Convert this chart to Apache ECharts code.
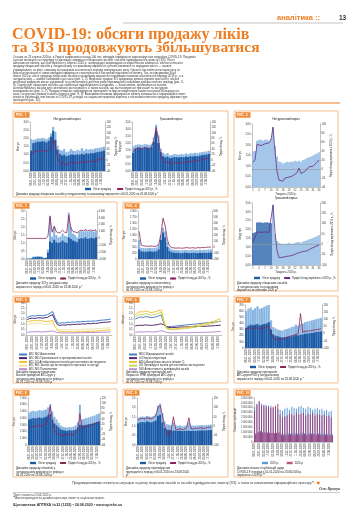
<!DOCTYPE html>
<html><head><meta charset="utf-8">
<script src="https://cdn.jsdelivr.net/npm/echarts@6/dist/echarts.min.js"></script>
<style>html,body{margin:0;padding:0;background:#fff}#c{width:360px;height:530px}</style>
</head><body><div id="c"></div>
<script>
// ---------- DATA ----------
const weeks = ['06.01.2020','13.01.2020','20.01.2020','27.01.2020','03.02.2020','10.02.2020','17.02.2020','24.02.2020','02.03.2020','09.03.2020','16.03.2020','23.03.2020','30.03.2020','06.04.2020','13.04.2020','20.04.2020','27.04.2020','04.05.2020','11.05.2020','18.05.2020','25.05.2020','01.06.2020','08.06.2020','15.06.2020','22.06.2020','29.06.2020','06.07.2020','13.07.2020','20.07.2020','27.07.2020','03.08.2020','10.08.2020','17.08.2020','23.08.2020'];
const weekNums = ['1','2','3','4','5','6','7','8','9','10','11','12','13','14','15','16','17','18','19','20','21','22','23','24','25','26','27','28','29','30','31','32','33','34'];

const p1L_light = [1.95,1.90,1.95,2.00,1.98,2.02,2.00,1.95,2.05,2.30,2.70,2.40,1.55,1.30,1.25,1.35,1.15,1.20,1.35,1.25,1.22,1.30,1.25,1.40,1.25,1.35,1.30,1.35,1.32,1.38,1.40,1.42,1.45,1.50];
const p1L_dark  = [1.25,1.70,1.75,1.80,1.78,1.82,1.80,1.75,1.85,2.10,2.45,1.90,1.30,1.05,0.95,1.00,0.90,0.95,1.00,1.00,0.98,1.02,1.00,1.05,1.00,1.08,1.05,1.10,1.08,1.12,1.15,1.18,1.20,1.25];
const p1L_line  = [20,30,32,35,33,36,34,32,38,50,75,55,5,-10,-15,-8,-20,-12,-6,-10,-12,-8,-10,-4,-10,-5,-8,-3,-6,-2,0,2,4,8];
const p1R_light = [1.75,1.85,1.90,1.88,1.86,1.92,1.90,1.86,1.95,2.40,3.30,2.55,1.60,1.30,1.20,1.28,1.12,1.15,1.22,1.18,1.16,1.22,1.18,1.25,1.20,1.28,1.25,1.30,1.27,1.32,1.35,1.38,1.40,1.45];
const p1R_dark  = [1.30,1.60,1.65,1.65,1.62,1.68,1.66,1.62,1.70,2.10,2.85,2.00,1.35,1.05,0.98,1.02,0.92,0.95,1.00,0.98,0.97,1.00,0.98,1.02,1.00,1.05,1.03,1.06,1.05,1.10,1.12,1.15,1.18,1.22];
const p1R_line  = [30,42,45,44,42,46,45,42,48,70,120,80,15,-5,-10,-6,-15,-12,-8,-10,-12,-8,-10,-6,-8,-4,-6,-2,-4,0,2,4,6,10];

const p2T_bars = [1.70,1.72,2.20,2.25,2.25,2.22,2.25,2.25,2.20,2.30,2.85,1.95,1.45,1.22,1.18,1.12,1.15,1.20,1.18,1.22,1.20,1.25,1.22,1.25,1.20,1.28,1.32,1.38,1.42,1.45,1.50,1.55,1.60,1.65];
const p2T_line = [15,20,55,58,52,55,56,60,58,65,93,40,-5,-25,-29,-27,-20,-22,-18,-17,-15,-12,-8,2,-10,-8,-5,-2,5,3,6,10,15,20];
const p2B_bars = [1.80,1.85,2.40,2.42,2.40,2.38,2.40,2.42,2.38,2.35,3.40,1.75,1.35,1.25,1.22,1.20,1.18,1.22,1.25,1.22,1.20,1.25,1.28,1.30,1.25,1.32,1.35,1.40,1.45,1.48,1.52,1.58,1.62,1.70];
const p2B_line = [10,15,60,62,58,55,60,62,58,65,190,60,-30,-65,-68,-62,-60,-58,-60,-55,-50,-48,-45,-40,-42,-35,-30,-32,-25,-20,-18,-12,-8,-3];

const p3_light = [0.04,0.04,0.05,0.15,0.16,0.18,0.18,0.16,0.08,0.10,0.60,2.70,1.40,2.00,1.50,1.35,1.40,1.60,1.45,1.40,2.90,2.00,1.60,1.50,1.35,1.70,1.75,1.70,1.80,1.70,1.75,1.75,1.70,1.80];
const p3_dark  = [0.02,0.02,0.03,0.10,0.12,0.13,0.12,0.11,0.05,0.06,0.40,1.10,1.00,1.20,1.05,1.00,1.05,1.15,1.05,1.00,1.35,1.25,1.15,1.10,1.05,1.25,1.30,1.28,1.35,1.25,1.30,1.32,1.28,1.35];
const p3_line  = [0,0,0,0,0,0,0,0,0,0,300,3200,900,1800,1000,800,900,1200,900,850,3400,1500,1000,950,800,1100,1200,1100,1300,1100,1200,1200,1100,1300];

const p4_light = [800,470,460,450,460,470,450,460,480,600,1000,1300,1150,700,480,400,380,370,380,360,370,380,370,360,380,390,370,360,380,370,390,380,390,400];
const p4_dark  = [400,320,310,300,310,320,300,310,320,400,800,1100,900,500,330,280,260,250,260,240,250,260,250,240,250,260,250,240,260,250,260,250,260,270];
const p4_line  = [260,30,20,15,10,18,12,10,15,40,200,480,350,120,20,-10,-15,-20,-15,-18,-20,-15,-10,-18,-15,-12,-20,-10,-15,-8,-10,-5,0,-5];

const p5_names = ['АТС N02 Анальгетики','АТС M01 Протизапальні та протиревматичні засоби','АТС J01 Антибактеріальні засоби для системного застосування','АТС R05 Засоби, що застосовуються при кашлі та застуді','АТС N05 Психолептики'];
const p5_a = [1.65,1.75,1.80,1.78,1.82,1.85,1.80,1.85,1.90,2.05,2.20,1.60,1.15,1.10,1.15,1.12,1.20,1.18,1.22,1.20,1.25,1.22,1.28,1.25,1.30,1.28,1.32,1.30,1.35,1.38,1.40,1.42,1.45,1.50];
const p5_b = [1.45,1.55,1.58,1.55,1.60,1.62,1.58,1.62,1.65,1.80,1.90,1.35,0.95,0.90,0.95,0.92,0.98,0.95,1.00,0.98,1.02,1.00,1.05,1.02,1.08,1.05,1.10,1.08,1.12,1.15,1.18,1.20,1.22,1.25];
const p5_c = [1.20,1.30,1.35,1.32,1.35,1.38,1.30,1.28,1.25,1.30,1.35,0.80,0.40,0.35,0.32,0.30,0.32,0.30,0.28,0.30,0.32,0.30,0.33,0.32,0.35,0.34,0.36,0.35,0.38,0.40,0.42,0.45,0.48,0.50];
const p5_d = [0.95,1.05,1.10,1.08,1.10,1.12,1.05,1.02,1.00,1.05,1.10,0.75,0.55,0.52,0.50,0.48,0.50,0.52,0.50,0.48,0.50,0.52,0.55,0.53,0.55,0.56,0.58,0.57,0.60,0.62,0.63,0.65,0.66,0.68];
const p5_e = [0.25,0.28,0.30,0.30,0.32,0.30,0.28,0.30,0.32,0.35,0.38,0.30,0.22,0.20,0.20,0.18,0.20,0.19,0.20,0.21,0.20,0.22,0.21,0.22,0.23,0.22,0.24,0.23,0.25,0.26,0.25,0.27,0.28,0.28];

const p6_names = ['R05C Відхаркувальні засоби','L03 Імуностимулятори','A11G Аскорбінова кислота (вітамін С)','J05 Противірусні засоби для системного застосування','D08 Антисептики та дезінфекційні засоби'];
const p6_a = [1.50,1.60,1.70,1.65,1.72,1.70,1.62,1.65,1.70,1.80,1.85,1.10,0.80,0.78,0.80,0.82,0.85,0.88,0.90,0.92,0.95,0.98,1.00,1.02,1.05,1.08,1.10,1.12,1.15,1.18,1.20,1.22,1.25,1.28];
const p6_b = [0.85,0.90,0.92,0.90,0.95,0.92,0.90,0.92,0.95,1.00,1.05,0.95,0.75,0.70,0.72,0.70,0.72,0.74,0.75,0.76,0.75,0.78,0.80,0.78,0.80,0.82,0.80,0.82,0.84,0.85,0.86,0.88,0.90,0.92];
const p6_c = [1.90,2.10,2.20,2.15,2.25,2.20,2.10,2.15,2.20,2.30,2.35,1.40,0.70,0.60,0.58,0.55,0.60,0.62,0.65,0.70,0.72,0.75,0.80,0.85,0.90,0.95,1.00,1.05,1.10,1.20,1.25,1.35,1.45,1.55];
const p6_d = [1.70,1.85,1.95,1.90,2.00,1.95,1.85,1.90,1.95,2.05,2.10,1.20,0.60,0.52,0.50,0.50,0.52,0.55,0.58,0.60,0.62,0.65,0.70,0.72,0.78,0.82,0.88,0.92,0.98,1.05,1.10,1.18,1.25,1.35];
const p6_e = [0.25,0.28,0.30,0.28,0.30,0.32,0.30,0.28,0.30,0.35,0.40,0.35,0.25,0.22,0.20,0.20,0.21,0.22,0.20,0.22,0.21,0.22,0.23,0.22,0.24,0.23,0.25,0.24,0.26,0.27,0.28,0.30,0.32,0.35];

const p7_light = [600,640,660,620,650,680,640,650,670,690,700,450,340,320,300,290,280,300,310,320,340,350,380,360,390,400,420,430,440,450,460,470,480,490];
const p7_dark  = [330,360,380,370,380,390,370,380,390,400,420,300,220,200,190,180,170,175,180,185,190,200,210,205,215,220,230,235,240,245,250,260,265,270];
const p7_line  = [30,40,38,35,42,40,36,38,40,45,55,10,-30,-40,-42,-38,-35,-30,-25,-20,-15,-10,-5,0,140,10,15,20,18,22,25,28,30,35];

const p8_light = [4800,5000,5100,5000,5100,5200,5100,5200,5300,5600,6100,5000,4200,3800,3300,2900,2700,2650,2600,2700,2650,2750,2900,3400,6000,3800,3900,4000,4100,4200,4300,4400,4550,4700];
const p8_dark  = [3800,3900,4000,3950,4050,4100,4000,4100,4200,4400,4600,3800,3200,2900,2600,2300,2200,2150,2100,2200,2150,2200,2300,2600,3000,2900,2950,3000,3100,3150,3200,3300,3400,3500];
const p8_line  = [5,10,12,10,14,15,12,16,20,40,90,35,-5,-15,-20,-22,-24,-22,-20,-18,-22,-20,-15,-5,60,5,8,10,12,15,18,22,25,30];

const p9_light = [1.45,1.50,1.52,1.50,1.55,1.52,1.50,1.55,1.65,2.10,2.20,1.70,1.25,1.10,1.08,1.05,1.20,1.05,1.02,1.04,1.00,1.02,1.05,1.20,1.02,1.04,1.03,1.05,1.04,1.06,1.05,1.06,1.07,1.08];
const p9_dark  = [1.15,1.20,1.22,1.20,1.25,1.22,1.20,1.25,1.30,1.55,1.60,1.20,0.90,0.82,0.80,0.78,0.76,0.78,0.75,0.76,0.74,0.75,0.76,0.75,0.74,0.76,0.75,0.77,0.76,0.78,0.77,0.78,0.79,0.80];
const p9_line  = [35,40,42,38,45,42,40,45,55,100,110,60,0,-30,-55,-20,50,-15,-18,-12,-20,-15,-10,45,-12,-15,-10,-12,-8,-10,-12,-8,-6,-5];

// thousands of units, two readings per week
const p10_2019 = [3600,900,3800,1000,4100,1100,3900,1000,3700,950,3800,1000,3600,900,3700,950,3500,900,3600,900,3400,850,3300,850,3200,800,3400,850,3500,900,3300,850,3600,900,3500,900,3400,850,3600,900,3700,950,3500,900,3400,850,3600,900,3500,900,3300,850,3400,850,3500,900,3300,850,3400,850,3200,800,3300,850,3100,800,3200,800];
const p10_2020 = [3200,800,3900,1000,4200,1100,3700,950,3800,1000,3600,900,3700,950,3500,900,3600,900,3700,950,3900,1000,2800,700,2500,650,2600,700,2700,700,2900,750,2800,700,2700,700,3000,800,2800,700,2900,750,3000,800,2700,700,2900,750,2800,700,3000,800,2700,700,2900,750,2800,700,2700,700,2800,700,2600,650,2700,700,2500,650];

// ---------- STYLE ----------
const FONT = 'Liberation Sans';
const ORANGE = '#ef7d22', FRAME = '#f4ae72', TAG = '#ef8b35';
const DARK = '#1d5aa5', LIGHT = '#86b5e2', MAROON = '#8b2458', PURPLE = '#6a2c86';
const FS = 2.6;

const option = {animation:false, backgroundColor:'#fff', grid:[], xAxis:[], yAxis:[], series:[], legend:[], graphic:[]};
const comma = d => v => v.toFixed(d).replace('.', ',');
const group = v => String(v).replace(/\B(?=(\d{3})+(?!\d))/g, ' ');

function yax(gi, pos, c){
  return {type:'value', gridIndex:gi, position:pos, min:c.min, max:c.max, interval:c.interval,
    splitLine:{show:false}, axisLine:{show:true, lineStyle:{color:'#888', width:0.5}},
    axisTick:{show:true, length:1, lineStyle:{color:'#888', width:0.4}},
    axisLabel:{fontSize:FS, color:'#333', margin:1.5, fontFamily:FONT, formatter:c.fmt},
    name:c.name||'', nameLocation:'middle', nameRotate:90, nameGap:c.gap||10,
    nameTextStyle:{fontSize:FS, color:'#333', fontFamily:FONT}};
}
function plot(p){
  const gi = option.grid.length;
  option.grid.push({left:p.g[0], top:p.g[1], width:p.g[2], height:p.g[3], outerBoundsMode:'none'});
  const xi = option.xAxis.length;
  option.xAxis.push({type:'category', gridIndex:gi, data:p.cats,
    axisLine:{lineStyle:{color:'#888', width:0.5}}, axisTick:{show:false},
    axisLabel:{fontSize:FS, color:'#333', rotate:p.rot===undefined?90:p.rot, interval:p.xInt, margin:1.5, fontFamily:FONT, formatter:p.xFmt},
    name:p.xName||'', nameLocation:'middle', nameGap:p.xGap||6, nameTextStyle:{fontSize:2.8, color:'#333', fontFamily:FONT}});
  const yl = option.yAxis.length;
  option.yAxis.push(yax(gi, 'left', p.yL));
  let yr = null;
  if (p.yR){ yr = option.yAxis.length; option.yAxis.push(yax(gi, 'right', p.yR)); }
  return {xi, yl, yr};
}
function bars(ax, light, dark){
  option.series.push({type:'bar', name:'Максимум', xAxisIndex:ax.xi, yAxisIndex:ax.yl, data:light, itemStyle:{color:LIGHT}, barGap:'-100%', barCategoryGap:'6%', silent:true});
  option.series.push({type:'bar', name:'Обсяг продажу', xAxisIndex:ax.xi, yAxisIndex:ax.yl, data:dark, itemStyle:{color:DARK}, barGap:'-100%', barCategoryGap:'6%', silent:true});
}
function line(ax, data, name, color, onRight, extra){
  option.series.push(Object.assign({type:'line', name:name, xAxisIndex:ax.xi, yAxisIndex:onRight?ax.yr:ax.yl, data:data, symbol:'none', z:5, silent:true, lineStyle:{color:color, width:0.8}, itemStyle:{color:color}}, extra||{}));
}
function txt(x, y, text, o){
  option.graphic.push({type:'text', x:x, y:y, silent:true, style:Object.assign({text:text, fontSize:3, fill:'#222', fontFamily:FONT}, o||{})});
}
function panel(x, y, w, h, n){
  option.graphic.push({type:'rect', silent:true, shape:{x:x, y:y, width:w, height:h}, style:{fill:'none', stroke:FRAME, lineWidth:0.8}});
  option.graphic.push({type:'rect', silent:true, shape:{x:x+1.5, y:y+1.2, width:15, height:5.5}, style:{fill:TAG}});
  txt(x+3, y+2.3, 'РИС. ' + n, {fontSize:3.3, fontWeight:'bold', fill:'#fff'});
}
function caption(x, y, w, text){
  txt(x, y, text, {width:w, overflow:'break', fontSize:2.9, lineHeight:3.5, fill:'#222'});
}
function legend(left, top, items, o){
  option.legend.push(Object.assign({left:left, top:top, padding:0, itemWidth:6, itemHeight:2.4, itemGap:5, selectedMode:false,
    textStyle:{fontSize:FS, color:'#222', fontFamily:FONT, padding:[0,0,0,-3]}, data:items}, o||{}));
}
const xDate = {cats:weeks, xInt:1};
const RIGHT_NAME = 'Приріст/спад, %';

// ---------- HEADER ----------
option.graphic.push({type:'line', silent:true, shape:{x1:123, y1:23, x2:343, y2:23}, style:{stroke:'#aaa', lineWidth:0.7}});
txt(277, 13.5, 'аналітика ::', {fontSize:7.5, fontWeight:'bold', fill:ORANGE});
txt(339, 14.5, '13', {fontSize:6.5, fontWeight:'bold', fill:'#333'});
txt(12, 27, 'COVID-19: обсяги продажу ліків', {fontSize:16, fontWeight:'bold', fill:ORANGE, fontFamily:'Liberation Serif'});
txt(12, 39.5, 'та ЗІЗ продовжують збільшуватися', {fontSize:15.5, fontWeight:'bold', fill:ORANGE, fontFamily:'Liberation Serif'});
const para = 'Станом на 23 серпня 2020 р. в Україні зафіксовано понад 100 тис. випадків інфікування коронавірусною хворобою COVID-19. Пандемія суттєво вплинула на структуру та динаміку споживання лікарських засобів і засобів індивідуального захисту (ЗІЗ). Після ажіотажного попиту, що спостерігався у березні 2020 р. напередодні запровадження карантинних обмежень, обсяги аптечного продажу лікарських засобів у натуральному та грошовому вираженні суттєво знизилися та впродовж квітня — травня утримувалися на рівні, нижчому за показники аналогічного періоду попереднього року. Однак із послабленням карантину та зростанням кількості нових випадків інфікування спостерігається поступове відновлення попиту. Так, за підсумками 34-го тижня 2020 р. обсяг продажу лікарських засобів у грошовому вираженні перевищив показник аналогічного періоду 2019 р., а в натуральному — майже наблизився до нього (рис. 1, 2). Водночас продаж ЗІЗ продовжує демонструвати зростання: обсяги реалізації медичних масок, рукавичок та антисептиків у десятки разів перевищують показники докарантинного періоду (рис. 3, 4). Серед груп лікарських засобів, що найбільше відреагували на епідемію, — анальгетики, протизапальні засоби, антибактеріальні засоби для системного застосування, а також засоби, що застосовуються при кашлі та застудних захворюваннях (рис. 5–7). Продаж вітамінів, противірусних препаратів та імуностимуляторів також поступово збільшується, хоча і не досягає пікових значень березня (рис. 8, 9). Важливим чинником формування попиту залишається інформаційне поле: кількість публікацій, пов\'язаних із COVID-19, у медіа та соціальних мережах корелює з обсягами аптечного продажу окремих груп препаратів (рис. 10).';
txt(13, 56, para, {width:327, overflow:'break', fontSize:2.9, lineHeight:3.05, fill:'#333'});
option.graphic.push({type:'line', silent:true, shape:{x1:13, y1:103, x2:340, y2:103}, style:{stroke:ORANGE, lineWidth:1}});

// ---------- РИС. 1 ----------
panel(13, 111, 215, 86, 1);
txt(67, 117.5, 'Натуральний вираз', {fontSize:3, textAlign:'center'});
txt(171, 117.5, 'Грошовий вираз', {fontSize:3, textAlign:'center'});
let a = plot(Object.assign({g:[30,122,75,49], yL:{min:0, max:3, interval:0.5, fmt:comma(2), name:'Млн уп.', gap:9}, yR:{min:-40, max:140, interval:20, name:RIGHT_NAME, gap:8}}, xDate));
bars(a, p1L_light, p1L_dark); line(a, p1L_line, 'Приріст/спад до 2019 р., %', MAROON, true);
a = plot(Object.assign({g:[132,122,78,49], yL:{min:0, max:3.5, interval:0.5, fmt:comma(2), name:'Млрд грн', gap:9}, yR:{min:-40, max:140, interval:20, name:RIGHT_NAME, gap:8}}, xDate));
bars(a, p1R_light, p1R_dark); line(a, p1R_line, 'Приріст/спад до 2019 р., %', MAROON, true);
legend(85, 187.5, [{name:'Обсяг продажу', icon:'rect'}, 'Приріст/спад до 2019 р., %']);
txt(16, 193.2, 'Динаміка продажу лікарських засобів у натуральному та грошовому вираженні з 06.01.2020 по 23.08.2020 р.*', {fontSize:2.8, fill:'#222'});

// ---------- РИС. 2 ----------
panel(234, 111, 104, 180, 2);
txt(286, 117.5, 'Натуральний вираз', {fontSize:3, textAlign:'center'});
txt(286, 196.5, 'Грошовий вираз', {fontSize:3, textAlign:'center'});
const zeroLine = {markLine:{silent:true, symbol:'none', label:{show:false}, lineStyle:{color:'#999', width:0.6, type:'solid'}, data:[{yAxis:0}]}};
a = plot({g:[252,124,68,63], cats:weekNums, xInt:2, rot:0, xName:'Тиждень 2020 р.', xGap:5.5,
  yL:{min:0, max:3, interval:0.5, fmt:comma(2), name:'Млн уп.', gap:9}, yR:{min:-40, max:100, interval:20, name:'Приріст/спад порівняно з 2019 р., %', gap:8}});
option.series.push({type:'bar', name:'Обсяг продажу', xAxisIndex:a.xi, yAxisIndex:a.yl, data:p2T_bars, itemStyle:{color:LIGHT}, barCategoryGap:'25%', silent:true});
line(a, p2T_line, 'Приріст/спад порівняно з 2019 р., %', PURPLE, true, zeroLine);
a = plot({g:[252,203,68,62], cats:weekNums, xInt:2, rot:0, xName:'Тиждень 2020 р.', xGap:5.5,
  yL:{min:0, max:3.5, interval:0.5, fmt:comma(2), name:'Млрд грн', gap:9}, yR:{min:-100, max:200, interval:50, name:'Приріст/спад порівняно з 2019 р., %', gap:8}});
option.series.push({type:'bar', name:'Обсяг продажу', xAxisIndex:a.xi, yAxisIndex:a.yl, data:p2B_bars, itemStyle:{color:p => p.dataIndex < 10 ? DARK : LIGHT}, barCategoryGap:'25%', silent:true});
line(a, p2B_line, 'Приріст/спад порівняно з 2019 р., %', PURPLE, true, zeroLine);
legend(254, 276.5, [{name:'Обсяг продажу', icon:'rect'}, 'Приріст/спад порівняно з 2019 р., %'], {itemGap:3});
caption(237, 281.5, 99, 'Динаміка продажу лікарських засобів у натуральному та грошовому вираженні за тижнями 2020 р.*');

// ---------- РИС. 3 ----------
panel(13, 202, 104, 90, 3);
a = plot(Object.assign({g:[26,211,71,48], yL:{min:0, max:3, interval:0.5, fmt:comma(1), name:'Млн уп.', gap:8}, yR:{min:-3000, max:4000, interval:1000, fmt:group, name:RIGHT_NAME, gap:11}}, xDate));
bars(a, p3_light, p3_dark); line(a, p3_line, 'Приріст/спад до 2019 р., %', MAROON, true);
legend(30, 277, [{name:'Обсяг продажу', icon:'rect'}, 'Приріст/спад до 2019 р., %'], {itemGap:3});
caption(16, 281.5, 98, 'Динаміка продажу ЗІЗ у натуральному вираженні в період з 06.01.2020 по 23.08.2020 р.*');

// ---------- РИС. 4 ----------
panel(123, 202, 105, 90, 4);
a = plot(Object.assign({g:[138,211,74,48], yL:{min:0, max:2000, interval:250, fmt:group, name:'Тис. уп.', gap:10}, yR:{min:-200, max:600, interval:100, name:RIGHT_NAME, gap:8}}, xDate));
bars(a, p4_light, p4_dark); line(a, p4_line, 'Приріст/спад до 2019 р., %', MAROON, true);
legend(140, 277, [{name:'Обсяг продажу', icon:'rect'}, 'Приріст/спад до 2019 р., %'], {itemGap:3});
caption(126, 281.5, 99, 'Динаміка продажу антисептиків у натуральному вираженні в період з 06.01.2020 по 23.08.2020 р.*');

// ---------- РИС. 5 ----------
panel(13, 296, 104, 87, 5);
const C5 = ['#3f7fcf', '#4b2a6e', '#f2c230', '#f1e3a6', '#b98ad2'];
a = plot(Object.assign({g:[26,303,86,32], yL:{min:0, max:3, interval:0.5, fmt:comma(1), name:'Млн уп.', gap:8}}, xDate));
[p5_a, p5_b, p5_c, p5_d, p5_e].forEach((d, i) => line(a, d, p5_names[i], C5[i], false, {lineStyle:{color:C5[i], width:1}}));
legend(18, 353, p5_names.slice(0, 2), {orient:'vertical', itemGap:0.6, itemWidth:8, itemHeight:2});
legend(18, 360.5, p5_names.slice(2), {orient:'vertical', itemGap:0.6, itemWidth:8, itemHeight:2});
caption(16, 370, 98, 'Динаміка продажу лікарських засобів провідних АТС-груп у натуральному вираженні в період з 06.01.2020 по 23.08.2020 р.*');

// ---------- РИС. 6 ----------
panel(123, 296, 105, 87, 6);
const C6 = ['#4a7fc1', '#5b2c6f', '#f2c230', '#c9d65c', '#b891d0'];
a = plot(Object.assign({g:[134,303,88,32], yL:{min:0, max:3, interval:0.5, fmt:comma(1), name:'Млн уп.', gap:8}}, xDate));
[p6_a, p6_b, p6_c, p6_d, p6_e].forEach((d, i) => line(a, d, p6_names[i], C6[i], false, {lineStyle:{color:C6[i], width:1}}));
legend(128, 353, p6_names.slice(0, 2), {orient:'vertical', itemGap:0.6, itemWidth:8, itemHeight:2});
legend(128, 360.5, p6_names.slice(2), {orient:'vertical', itemGap:0.6, itemWidth:8, itemHeight:2});
caption(126, 370, 99, 'Динаміка продажу препаратів для лікування ГРВІ провідних АТС-груп у натуральному вираженні в період з 06.01.2020 по 23.08.2020 р.*');

// ---------- РИС. 7 ----------
panel(234, 296, 104, 87, 7);
a = plot(Object.assign({g:[245,305,77,43], yL:{min:0, max:700, interval:100, name:'Тис. уп.', gap:8}, yR:{min:-100, max:200, interval:50, name:RIGHT_NAME, gap:8}}, xDate));
bars(a, p7_light, p7_dark); line(a, p7_line, 'Приріст/спад до 2019 р., %', MAROON, true);
legend(250, 365.5, [{name:'Обсяг продажу', icon:'rect'}, 'Приріст/спад до 2019 р., %'], {itemGap:3});
caption(237, 370, 99, 'Динаміка продажу препаратів АТС-групи R05 у натуральному вираженні в період з 06.01.2020 по 23.08.2020 р.*');

// ---------- РИС. 8 ----------
panel(13, 389, 104, 88, 8);
a = plot(Object.assign({g:[28,398,72,47], yL:{min:0, max:7000, interval:1000, fmt:group, name:'Тис. уп.', gap:10}, yR:{min:-60, max:120, interval:20, name:RIGHT_NAME, gap:8}}, xDate));
bars(a, p8_light, p8_dark); line(a, p8_line, 'Приріст/спад до 2019 р., %', MAROON, true);
legend(30, 461.5, [{name:'Обсяг продажу', icon:'rect'}, 'Приріст/спад до 2019 р., %'], {itemGap:3});
caption(16, 466.5, 98, 'Динаміка продажу вітамінів у натуральному вираженні в період з 06.01.2020 по 23.08.2020 р.*');

// ---------- РИС. 9 ----------
panel(123, 389, 105, 88, 9);
a = plot(Object.assign({g:[137,398,75,47], yL:{min:0, max:2.5, interval:0.5, fmt:comma(1), name:'Млн уп.', gap:8}, yR:{min:-100, max:150, interval:50, name:RIGHT_NAME, gap:8}}, xDate));
bars(a, p9_light, p9_dark); line(a, p9_line, 'Приріст/спад до 2019 р., %', MAROON, true);
legend(140, 461.5, [{name:'Обсяг продажу', icon:'rect'}, 'Приріст/спад до 2019 р., %'], {itemGap:3});
caption(126, 466.5, 99, 'Динаміка продажу противірусних препаратів в період з 06.01.2020 по 23.08.2020 р.*');

// ---------- РИС. 10 ----------
panel(234, 389, 104, 88, 10);
a = plot({g:[254,398,79,44], cats:p10_2019.map((v, i) => String(i)), xInt:3, xFmt:(v, i) => weeks[Math.floor(i / 2)],
  yL:{min:0, max:4500, interval:500, fmt:v => v === 0 ? '0' : group(v * 1000), name:'Кількість публікацій', gap:14}});
option.series.push({type:'bar', name:'2019 р.', xAxisIndex:a.xi, yAxisIndex:a.yl, data:p10_2019, itemStyle:{color:'#5d9ad6'}, barGap:'-100%', barCategoryGap:'15%', silent:true});
option.series.push({type:'bar', name:'2020 р.', xAxisIndex:a.xi, yAxisIndex:a.yl, data:p10_2020, itemStyle:{color:'rgba(168,38,100,0.78)'}, barGap:'-100%', barCategoryGap:'15%', silent:true});
legend(262, 461.5, [{name:'2019 р.', icon:'rect'}, {name:'2020 р.', icon:'rect'}], {itemGap:8});
caption(237, 466.5, 99, 'Динаміка кількості публікацій щодо COVID-19 в період з 01.01.2020 по 23.08.2020 р. порівняно з 2019 р.**');

// ---------- FOOTER ----------
txt(315, 481.5, 'Продовжуватимемо стежити за ситуацією на ринку лікарських засобів та засобів індивідуального захисту (ЗІЗ), а також за показниками інформаційного простору**.', {fontSize:3.2, textAlign:'right', fill:'#333'});
option.graphic.push({type:'rect', silent:true, shape:{x:317, y:481.6, width:2.6, height:2.6}, style:{fill:ORANGE}});
txt(340, 487.5, 'Олег Ярошук', {fontSize:3.6, fontStyle:'italic', fontWeight:'bold', textAlign:'right', fill:'#333', fontFamily:'Liberation Serif'});
option.graphic.push({type:'line', silent:true, shape:{x1:13, y1:492.5, x2:340, y2:492.5}, style:{stroke:'#999', lineWidth:0.5}});
txt(13, 494, '*Дані станом на 23.08.2020 р.', {fontSize:2.8, fill:'#444'});
txt(13, 497, '**Аналіз проведено за даними агрегатора новин та соціальних мереж.', {fontSize:2.8, fill:'#444'});
txt(13, 502.5, 'Щотижневик АПТЕКА №32 (1253) • 24.08.2020 • www.apteka.ua', {fontSize:3.6, fontWeight:'bold', fill:'#333'});

const chart = echarts.init(document.getElementById('c'), null, {renderer:'canvas'});
chart.setOption(option);
</script>
</body></html>
